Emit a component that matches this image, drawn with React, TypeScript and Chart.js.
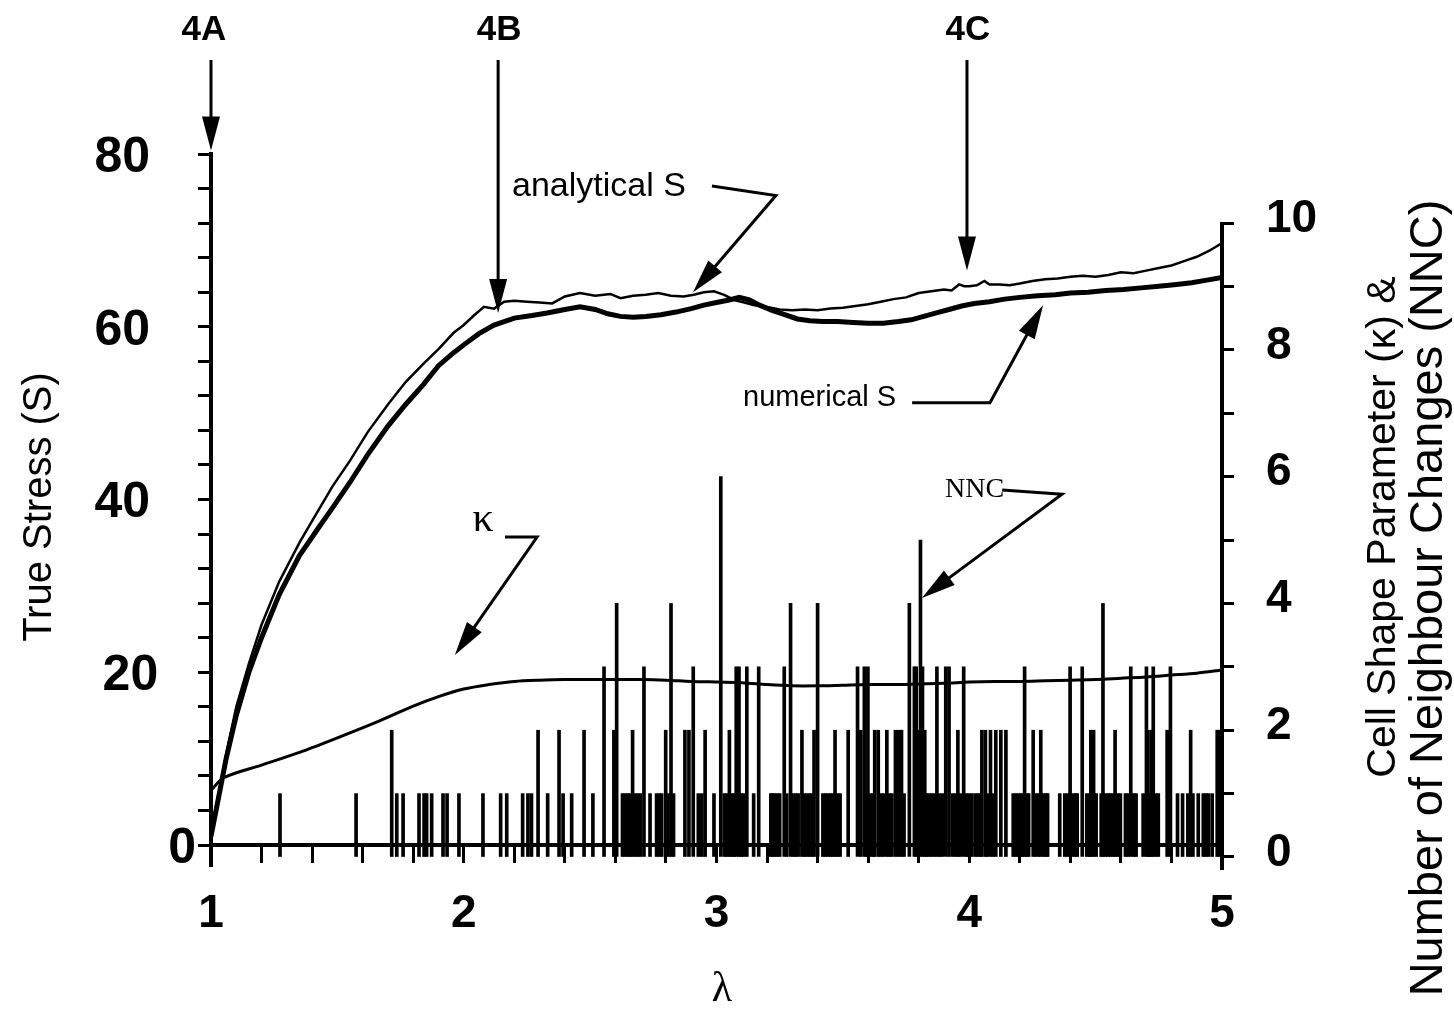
import React, { useEffect, useRef } from 'react';
import { Chart, registerables } from 'chart.js';

Chart.register(...registerables);

const W = 1454;
const H = 1012;
const SANS = '"Liberation Sans", Arial, Helvetica, sans-serif';
const SERIF = '"Liberation Serif", "Times New Roman", serif';

// ---------- data ----------
const analyticalLambda = [1.0, 1.03, 1.06, 1.1, 1.15, 1.2, 1.27, 1.35, 1.42, 1.48, 1.55, 1.62, 1.7, 1.77, 1.84, 1.9, 1.96, 2.0, 2.04, 2.08, 2.12, 2.16, 2.2, 2.25, 2.3, 2.35, 2.4, 2.46, 2.52, 2.58, 2.62, 2.67, 2.72, 2.77, 2.82, 2.87, 2.91, 2.95, 2.99, 3.03, 3.07, 3.11, 3.15, 3.2, 3.25, 3.3, 3.35, 3.4, 3.45, 3.5, 3.55, 3.6, 3.65, 3.7, 3.75, 3.8, 3.85, 3.9, 3.93, 3.96, 3.98, 4.0, 4.03, 4.06, 4.08, 4.12, 4.16, 4.2, 4.25, 4.3, 4.35, 4.4, 4.45, 4.5, 4.55, 4.6, 4.65, 4.7, 4.75, 4.8, 4.85, 4.9, 4.95, 5.0];
const analyticalS = [1.5, 6, 10.5, 16, 21, 25.5, 30.5, 35, 38.5, 41.5, 44.5, 47.8, 51, 53.6, 55.7, 57.4, 59.3, 60.2, 61.3, 62.3, 62.1, 62.9, 63.0, 62.9, 62.8, 62.7, 63.5, 63.9, 63.6, 63.8, 63.3, 63.6, 63.7, 63.9, 63.6, 63.5, 63.7, 64.0, 64.1, 63.7, 63.1, 62.8, 62.5, 62.3, 62.0, 61.9, 62.0, 61.9, 62.1, 62.2, 62.4, 62.6, 62.9, 63.2, 63.4, 63.9, 64.1, 64.3, 64.2, 64.9, 64.7, 64.7, 64.8, 65.3, 64.9, 64.9, 64.8, 65.0, 65.3, 65.5, 65.6, 65.8, 65.9, 65.8, 66.0, 66.3, 66.2, 66.5, 66.8, 67.1, 67.6, 68.1, 68.8, 69.7];

const numericalLambda = [1.0, 1.03, 1.06, 1.1, 1.15, 1.2, 1.27, 1.35, 1.42, 1.48, 1.55, 1.62, 1.7, 1.77, 1.84, 1.9, 1.96, 2.0, 2.06, 2.12, 2.2, 2.27, 2.33, 2.4, 2.46, 2.52, 2.57, 2.62, 2.67, 2.72, 2.78, 2.84, 2.9, 2.95, 3.0, 3.05, 3.09, 3.13, 3.17, 3.22, 3.27, 3.32, 3.37, 3.42, 3.48, 3.54, 3.6, 3.66, 3.72, 3.77, 3.82, 3.87, 3.92, 3.97, 4.02, 4.08, 4.14, 4.2, 4.27, 4.34, 4.4, 4.47, 4.54, 4.61, 4.68, 4.75, 4.82, 4.88, 4.94, 5.0];
const numericalS = [1, 5.5, 10, 15, 20, 24, 29, 33.5, 36.5, 39, 42, 45.2, 48.5, 51, 53.3, 55.5, 57, 57.9, 59.2, 60.2, 61.0, 61.3, 61.6, 62.0, 62.3, 62.0, 61.5, 61.2, 61.1, 61.2, 61.4, 61.7, 62.1, 62.5, 62.8, 63.1, 63.4, 63.1, 62.5, 61.9, 61.4, 60.9, 60.7, 60.6, 60.6, 60.5, 60.4, 60.4, 60.6, 60.8, 61.2, 61.6, 62.0, 62.4, 62.7, 62.9, 63.2, 63.4, 63.6, 63.7, 63.9, 64.0, 64.2, 64.3, 64.5, 64.7, 64.9, 65.1, 65.4, 65.7];

const kappaLambda = [1.0, 1.05, 1.2, 1.35, 1.5, 1.65, 1.8, 1.9, 2.0, 2.1, 2.2, 2.3, 2.4, 2.5, 2.6, 2.7, 2.8, 2.9, 3.0, 3.1, 3.2, 3.3, 3.4, 3.5, 3.6, 3.7, 3.8, 3.9, 4.0, 4.1, 4.2, 4.3, 4.4, 4.5, 4.6, 4.7, 4.8, 4.9, 5.0];
const kappaValues = [1.05, 1.25, 1.45, 1.65, 1.88, 2.12, 2.38, 2.53, 2.65, 2.72, 2.77, 2.79, 2.8, 2.8, 2.8, 2.8, 2.79, 2.77, 2.76, 2.75, 2.72, 2.7, 2.7, 2.71, 2.72, 2.72, 2.73, 2.74, 2.76, 2.77, 2.77, 2.78, 2.79, 2.8, 2.82, 2.84, 2.87, 2.9, 2.95];

// [lambda, number of neighbour changes]
const nncEvents: [number, number][] = [
  [1.273, 1], [1.574, 1], [1.715, 2], [1.735, 1], [1.76, 1], [1.823, 1], [1.843, 1], [1.853, 1], [1.873, 1],
  [1.918, 1], [1.934, 1], [1.981, 1], [2.076, 1], [2.146, 1], [2.17, 1], [2.233, 1], [2.254, 1], [2.268, 1],
  [2.294, 2], [2.332, 1], [2.377, 2], [2.393, 1], [2.427, 1], [2.476, 2], [2.511, 1], [2.555, 3], [2.594, 2],
  [2.605, 4], [2.628, 1], [2.638, 1], [2.648, 1], [2.658, 1], [2.668, 2], [2.678, 1], [2.688, 1], [2.698, 1],
  [2.713, 3], [2.737, 1], [2.763, 1], [2.773, 1], [2.783, 1], [2.799, 2], [2.808, 1], [2.82, 4], [2.83, 1],
  [2.875, 2], [2.891, 2], [2.908, 3], [2.928, 1], [2.942, 1], [2.955, 2], [2.99, 1], [3.017, 6], [3.031, 1],
  [3.041, 1], [3.051, 2], [3.061, 1], [3.07, 1], [3.078, 3], [3.089, 3], [3.098, 1], [3.106, 1], [3.12, 3],
  [3.147, 1], [3.167, 3], [3.215, 1], [3.222, 1], [3.229, 1], [3.24, 1], [3.25, 1], [3.268, 3], [3.278, 1],
  [3.293, 4], [3.303, 1], [3.313, 1], [3.323, 1], [3.338, 2], [3.348, 1], [3.358, 1], [3.368, 1], [3.377, 1],
  [3.386, 2], [3.4, 4], [3.421, 1], [3.431, 1], [3.441, 1], [3.451, 1], [3.46, 1], [3.469, 2], [3.479, 1],
  [3.489, 1], [3.521, 2], [3.558, 3], [3.571, 2], [3.585, 3], [3.592, 1], [3.599, 3], [3.61, 1], [3.62, 1],
  [3.626, 2], [3.64, 2], [3.65, 1], [3.66, 1], [3.674, 2], [3.684, 1], [3.694, 1], [3.708, 2], [3.72, 2],
  [3.732, 2], [3.742, 1], [3.763, 4], [3.783, 3], [3.79, 3], [3.798, 2], [3.807, 5], [3.815, 3], [3.824, 2],
  [3.831, 1], [3.841, 1], [3.851, 1], [3.861, 1], [3.872, 3], [3.882, 1], [3.893, 1], [3.907, 3], [3.92, 3],
  [3.935, 1], [3.945, 1], [3.955, 2], [3.965, 1], [3.978, 3], [3.988, 1], [3.998, 1], [4.009, 1], [4.023, 1],
  [4.033, 1], [4.043, 1], [4.05, 2], [4.064, 2], [4.071, 1], [4.084, 2], [4.095, 1], [4.105, 2], [4.125, 2],
  [4.145, 2], [4.174, 1], [4.184, 1], [4.194, 1], [4.204, 1], [4.212, 1], [4.219, 3], [4.228, 1], [4.235, 1],
  [4.253, 2], [4.263, 1], [4.273, 1], [4.283, 2], [4.293, 1], [4.303, 1], [4.31, 1], [4.358, 1], [4.378, 1],
  [4.389, 1], [4.399, 3], [4.409, 1], [4.419, 1], [4.427, 1], [4.447, 3], [4.465, 1], [4.475, 1], [4.481, 2],
  [4.492, 2], [4.502, 1], [4.522, 1], [4.529, 4], [4.539, 1], [4.549, 1], [4.559, 1], [4.569, 1], [4.577, 2],
  [4.588, 1], [4.598, 1], [4.618, 1], [4.628, 1], [4.639, 3], [4.65, 1], [4.66, 1], [4.688, 1], [4.701, 3],
  [4.707, 2], [4.714, 1], [4.721, 2], [4.728, 3], [4.738, 1], [4.748, 1], [4.783, 2], [4.796, 3], [4.824, 1],
  [4.844, 1], [4.865, 1], [4.876, 2], [4.885, 1], [4.906, 1], [4.926, 1], [4.936, 1], [4.946, 1], [4.961, 1],
  [4.981, 2], [4.991, 2], [5.0, 2],
];

// ---------- ticks ----------
const xTickValues = [1, 1.2, 1.4, 1.6, 1.8, 2, 2.2, 2.4, 2.6, 2.8, 3, 3.2, 3.4, 3.6, 3.8, 4, 4.2, 4.4, 4.6, 4.8, 5];
const xTickLabels = ['1', '2', '3', '4', '5'];
const leftTickValues = [0, 4, 8, 12, 16, 20, 24, 28, 32, 36, 40, 44, 48, 52, 56, 60, 64, 68, 72, 76, 80];
const leftTickLabels = ['0', '20', '40', '60', '80'];
const rightTickValues = [0, 1, 2, 3, 4, 5, 6, 7, 8, 9, 10];
const rightTickLabels = ['0', '2', '4', '6', '8', '10'];

// ---------- annotations (data coordinates: lambda, left-axis S) ----------
const markerLabels = ['4A', '4B', '4C'];
const markerLambda = [1.0, 2.136, 3.991];
const markerLabelLambda = [0.972, 2.14, 3.995];
const markerTipS = [80.4, 61.6, 66.5];

type Callout = { text: string; font: string; at: [number, number]; align: CanvasTextAlign; path: [number, number][] };
const callouts: Callout[] = [
  { text: 'analytical S', font: `34px ${SANS}`, at: [2.191, 76.2], align: 'left', path: [[2.982, 76.3], [3.235, 75.2], [2.907, 64.0]] },
  { text: 'numerical S', font: `29px ${SANS}`, at: [3.105, 51.7], align: 'left', path: [[3.774, 51.2], [4.082, 51.2], [4.292, 62.5]] },
  { text: 'κ', font: `42px ${SERIF}`, at: [2.076, 37.6], align: 'center', path: [[2.163, 35.65], [2.29, 35.65], [1.965, 22.0]] },
  { text: 'NNC', font: `28px ${SERIF}`, at: [3.904, 41.1], align: 'left', path: [[4.13, 41.1], [4.367, 40.6], [3.813, 28.6]] },
];

const isInt = (v: number) => Math.abs(v - Math.round(v)) < 1e-6;

function arrowHead(ctx: CanvasRenderingContext2D, fx: number, fy: number, tx: number, ty: number) {
  const ang = Math.atan2(ty - fy, tx - fx);
  const L = 34;
  const hw = 9;
  const bx = tx - L * Math.cos(ang);
  const by = ty - L * Math.sin(ang);
  ctx.beginPath();
  ctx.moveTo(tx, ty);
  ctx.lineTo(bx + hw * Math.sin(ang), by - hw * Math.cos(ang));
  ctx.lineTo(bx - hw * Math.sin(ang), by + hw * Math.cos(ang));
  ctx.closePath();
  ctx.fill();
}

const annotationPlugin = {
  id: 'figureAnnotations',
  afterDraw(chart: any) {
    const ctx: CanvasRenderingContext2D = chart.ctx;
    const xs = chart.scales.x;
    const ys = chart.scales.y;
    const y1 = chart.scales.y1;
    const px = (v: number) => xs.getPixelForValue(v);
    const py = (v: number) => ys.getPixelForValue(v);
    ctx.save();
    ctx.strokeStyle = '#000';
    ctx.fillStyle = '#000';
    ctx.lineCap = 'butt';

    // right axis line
    ctx.lineWidth = 4;
    ctx.beginPath();
    ctx.moveTo(px(5), y1.getPixelForValue(10) - 1);
    ctx.lineTo(px(5), chart.chartArea.bottom + 4);
    ctx.stroke();

    // 4A / 4B / 4C markers
    markerLabels.forEach((lab, i) => {
      const x = px(markerLambda[i]);
      const tip = py(markerTipS[i]);
      ctx.font = `bold 35px ${SANS}`;
      ctx.textAlign = 'center';
      ctx.textBaseline = 'middle';
      ctx.fillText(lab, px(markerLabelLambda[i]), 30);
      ctx.lineWidth = 3;
      ctx.beginPath();
      ctx.moveTo(x, 60);
      ctx.lineTo(x, tip - 30);
      ctx.stroke();
      arrowHead(ctx, x, 60, x, tip);
    });

    // callouts
    callouts.forEach((c) => {
      ctx.font = c.font;
      ctx.textAlign = c.align;
      ctx.textBaseline = 'middle';
      ctx.fillText(c.text, px(c.at[0]), py(c.at[1]));
      const pts = c.path.map(([a, b]) => [px(a), py(b)]);
      const n = pts.length;
      const [fx, fy] = pts[n - 2];
      const [tx, ty] = pts[n - 1];
      const ang = Math.atan2(ty - fy, tx - fx);
      ctx.lineWidth = 3;
      ctx.beginPath();
      ctx.moveTo(pts[0][0], pts[0][1]);
      for (let i = 1; i < n - 1; i++) ctx.lineTo(pts[i][0], pts[i][1]);
      ctx.lineTo(tx - 30 * Math.cos(ang), ty - 30 * Math.sin(ang));
      ctx.stroke();
      arrowHead(ctx, fx, fy, tx, ty);
    });

    // axis titles
    ctx.textAlign = 'center';
    ctx.textBaseline = 'middle';
    ctx.font = `40px ${SANS}`;
    ctx.save();
    ctx.translate(40, 507);
    ctx.rotate(-Math.PI / 2);
    ctx.fillText('True Stress (S)', 0, 0);
    ctx.restore();

    ctx.font = `41px ${SANS}`;
    ctx.save();
    ctx.translate(1384, 527);
    ctx.rotate(-Math.PI / 2);
    ctx.fillText('Cell Shape Parameter (κ) &', 0, 0);
    ctx.restore();
    ctx.font = `47px ${SANS}`;
    ctx.save();
    ctx.translate(1429, 598);
    ctx.rotate(-Math.PI / 2);
    ctx.fillText('Number of Neighbour Changes (NNC)', 0, 0);
    ctx.restore();

    ctx.font = `42px ${SERIF}`;
    ctx.fillText('λ', 722, 990);
    ctx.restore();
  },
};

export default function App() {
  const ref = useRef<HTMLCanvasElement | null>(null);

  useEffect(() => {
    if (!ref.current) return;
    const black = '#000';
    const leftPad: Record<string, string> = { '0': '', '20': '  \u2009', '40': '   \u200a', '60': '   \u200a', '80': '   \u200a' };
    const chart = new Chart(ref.current, {
      type: 'line',
      data: {
        datasets: [
          {
            type: 'line',
            label: 'analytical S',
            data: analyticalLambda.map((x, i) => ({ x, y: analyticalS[i] })),
            yAxisID: 'y',
            borderColor: black,
            borderWidth: 2.5,
            pointRadius: 0,
            tension: 0,
            order: 1,
          },
          {
            type: 'line',
            label: 'numerical S',
            data: numericalLambda.map((x, i) => ({ x, y: numericalS[i] })),
            yAxisID: 'y',
            borderColor: black,
            borderWidth: 5,
            pointRadius: 0,
            tension: 0,
            order: 2,
          },
          {
            type: 'line',
            label: 'κ',
            data: kappaLambda.map((x, i) => ({ x, y: kappaValues[i] })),
            yAxisID: 'y1',
            borderColor: black,
            borderWidth: 3,
            pointRadius: 0,
            tension: 0.3,
            order: 3,
          },
          {
            type: 'bar',
            label: 'NNC',
            data: nncEvents.map(([x, y]) => ({ x, y })),
            yAxisID: 'y1',
            backgroundColor: black,
            borderWidth: 0,
            barThickness: 3,
            grouped: false,
            order: 4,
          } as any,
        ],
      },
      options: {
        animation: false,
        responsive: false,
        events: [],
        devicePixelRatio: 1,
        layout: { padding: { top: 154, bottom: 146, left: 0, right: 0 } },
        plugins: { legend: { display: false }, tooltip: { enabled: false } },
        scales: {
          x: {
            type: 'linear',
            min: 1,
            max: 5,
            offset: false,
            position: { y: 0 } as any,
            afterBuildTicks: (s: any) => {
              s.ticks = xTickValues.map((v) => ({ value: v }));
            },
            ticks: {
              autoSkip: false,
              maxRotation: 0,
              padding: 26,
              color: black,
              font: { family: SANS, size: 46, weight: 'bold' },
              callback: (v: any) => (isInt(Number(v)) ? xTickLabels[Math.round(Number(v)) - 1] : ''),
            },
            grid: { offset: false, drawOnChartArea: false, drawTicks: true, tickLength: 16, tickWidth: 3, tickColor: black },
            border: { display: true, width: 4, color: black },
          } as any,
          y: {
            type: 'linear',
            position: 'left',
            min: -2.43,
            max: 80,
            afterFit: (s: any) => {
              s.width = 211;
            },
            afterBuildTicks: (s: any) => {
              s.ticks = leftTickValues.map((v) => ({ value: v }));
            },
            ticks: {
              autoSkip: false,
              padding: 2,
              labelOffset: 4,
              color: black,
              font: { family: SANS, size: 50, weight: 'bold' },
              callback: (v: any) => {
                const n = Number(v);
                if (n % 20 !== 0) return '';
                const lab = leftTickLabels[n / 20];
                return lab + (leftPad[lab] ?? '');
              },
            },
            grid: { drawOnChartArea: false, drawTicks: true, tickLength: 13, tickWidth: 3, tickColor: black },
            border: { display: true, width: 4, color: black },
          } as any,
          y1: {
            type: 'linear',
            position: 'right',
            min: -0.142,
            max: 11.09,
            afterFit: (s: any) => {
              s.width = 232;
            },
            afterBuildTicks: (s: any) => {
              s.ticks = rightTickValues.map((v) => ({ value: v }));
            },
            ticks: {
              autoSkip: false,
              padding: 32,
              labelOffset: -4,
              color: black,
              font: { family: SANS, size: 46, weight: 'bold' },
              callback: (v: any) => {
                const n = Number(v);
                return n % 2 === 0 ? rightTickLabels[n / 2] : '';
              },
            },
            grid: { drawOnChartArea: false, drawTicks: true, tickLength: 12, tickWidth: 3, tickColor: black },
            border: { display: false },
          } as any,
        },
      },
      plugins: [annotationPlugin],
    });
    return () => chart.destroy();
  }, []);

  return (
    <div style={{ position: 'fixed', left: 0, top: 0, width: W, height: H, background: '#fff' }}>
      <canvas ref={ref} width={W} height={H} style={{ display: 'block', width: W, height: H }} />
    </div>
  );
}
